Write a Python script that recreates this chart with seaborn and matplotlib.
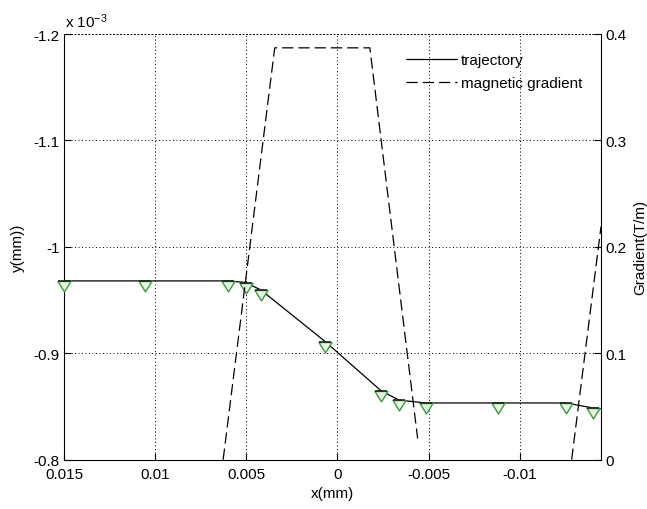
import numpy as np
import pandas as pd
import matplotlib
matplotlib.use("Agg")
import matplotlib.pyplot as plt
import seaborn as sns
from matplotlib.path import Path
from matplotlib.lines import Line2D
from matplotlib.ticker import FuncFormatter, FixedLocator

# ---- data ----
traj_x = [0.015, 0.01053, 0.00598, 0.00504, 0.0042, 0.00067, -0.00238,
          -0.00337, -0.00485, -0.00879, -0.01254, -0.01403, -0.01446]
traj_y_e3 = [-0.968, -0.968, -0.968, -0.9665, -0.9595, -0.911, -0.865,
             -0.856, -0.8533, -0.8533, -0.8533, -0.8486, -0.848]
mark_x = [0.015, 0.01053, 0.00598, 0.00504, 0.0042, 0.00067, -0.00238,
          -0.00337, -0.00485, -0.00879, -0.01254, -0.01403]
mark_y_e3 = [-0.968, -0.968, -0.968, -0.9665, -0.9595, -0.911, -0.865,
             -0.856, -0.8533, -0.8533, -0.8533, -0.8486]
grad_x = [0.00627, 0.00344, -0.00178, -0.0044, -0.01285, -0.01446]
grad_v = [0.0, 0.387, 0.387, 0.02, 0.0, 0.219]
grad_seg = [1, 1, 1, 1, 2, 2]

x_ticks = [0.015, 0.01, 0.005, 0.0, -0.005, -0.01]
y_ticks_e3 = [-1.2, -1.1, -1.0, -0.9, -0.8]
g_ticks = [0.0, 0.1, 0.2, 0.3, 0.4]
x_lim = (0.015, -0.01446)
y_lim_e3 = (-0.8, -1.2)
g_lim = (0.0, 0.4)

legend_labels = ["trajectory", "magnetic gradient"]

traj_y = np.array(traj_y_e3) * 1e-3
mark_y = np.array(mark_y_e3) * 1e-3

# ---- style ----
sns.set_theme(style="white", rc={
    "axes.edgecolor": "black", "text.color": "black",
    "xtick.color": "black", "ytick.color": "black",
    "axes.labelcolor": "black", "axes.linewidth": 0.8,
})
plt.rcParams["font.family"] = ["Liberation Sans", "DejaVu Sans"]
plt.rcParams["mathtext.default"] = "regular"
FS = 11

W, H = 647, 510
fig = plt.figure(figsize=(W / 100, H / 100), dpi=100)
L, R, T, B = 64, 601, 35, 460.7
ax = fig.add_axes([L / W, 1 - B / H, (R - L) / W, (B - T) / H])
ax2 = ax.twinx()

dotted = (0, (1, 2.6))

# trajectory
sns.lineplot(x=traj_x, y=traj_y, sort=False, estimator=None, color="black",
             lw=0.9, ax=ax, legend=False, zorder=2)
tri = Path([(-1, 0), (1, 0), (0, -1.6), (-1, 0)],
           [Path.MOVETO, Path.LINETO, Path.LINETO, Path.CLOSEPOLY])
sns.scatterplot(x=mark_x, y=mark_y, marker=tri, s=225, color="#e6f4e6",
                edgecolor="#3a9a3a", linewidth=1.0, ax=ax, legend=False,
                zorder=3, clip_on=False)
ax.plot(mark_x, mark_y, ls="none", marker="_", ms=9, mew=1.2,
        color="#1a2a1a", zorder=4, clip_on=False)

# gradient
gdf = pd.DataFrame({"x": grad_x, "g": grad_v, "seg": grad_seg})
sns.lineplot(data=gdf, x="x", y="g", units="seg", estimator=None, sort=False,
             color="black", lw=0.9, linestyle=(0, (9, 4)), ax=ax2,
             legend=False)

# axes ranges & ticks
ax.set_xlim(*x_lim)
ax.set_ylim(y_lim_e3[0] * 1e-3, y_lim_e3[1] * 1e-3)
ax2.set_ylim(*g_lim)
ax.xaxis.set_major_locator(FixedLocator(x_ticks))
ax.yaxis.set_major_locator(FixedLocator(np.array(y_ticks_e3) * 1e-3))
ax2.yaxis.set_major_locator(FixedLocator(g_ticks))
ax.xaxis.set_major_formatter(FuncFormatter(lambda v, p: f"{v:g}"))
ax.yaxis.set_major_formatter(FuncFormatter(lambda v, p: f"{v * 1e3:g}"))
ax2.yaxis.set_major_formatter(FuncFormatter(lambda v, p: f"{v:g}"))

ax.tick_params(axis="both", direction="in", length=5, width=0.8,
               labelsize=FS, left=True, bottom=True, top=False, right=False)
ax.tick_params(axis="x", pad=5)
ax.tick_params(axis="y", pad=3)
ax2.tick_params(axis="y", direction="in", length=5, width=0.8, labelsize=FS,
                right=True, left=False, pad=3)

ax.grid(True, color="black", linestyle=dotted, lw=0.7)
ax2.grid(False)

ax.spines["right"].set_visible(False)
ax.spines["top"].set_linestyle(dotted)
ax.spines["top"].set_linewidth(0.7)
for s in ["left", "top", "bottom"]:
    ax2.spines[s].set_visible(False)
ax2.spines["right"].set_color("black")

ax.set_xlabel("x(mm)", fontsize=FS)
ax.set_ylabel("y(mm))", fontsize=FS)
ax2.set_ylabel("Gradient(T/m)", fontsize=FS)
ax.xaxis.set_label_coords(0.5, -0.062)
ax.yaxis.set_label_coords((25 - L) / (R - L), 0.5)
ax2.yaxis.set_label_coords((633 - L) / (R - L), 0.5)

fig.text(65 / W, 1 - 28 / H, "x 10$^{-3}$", fontsize=FS, ha="left",
         va="baseline")

handles = [Line2D([], [], color="black", lw=0.9),
           Line2D([], [], color="black", lw=0.9, linestyle=(0, (9, 4)))]
ax2.legend(handles, legend_labels, loc="upper left",
           bbox_to_anchor=(406 / W, 1 - 54 / H),
           bbox_transform=fig.transFigure, frameon=False, borderpad=0,
           borderaxespad=0, handlelength=3.35, handletextpad=0.25,
           labelspacing=0.6, fontsize=FS)

fig.savefig("out.png", dpi=100)
